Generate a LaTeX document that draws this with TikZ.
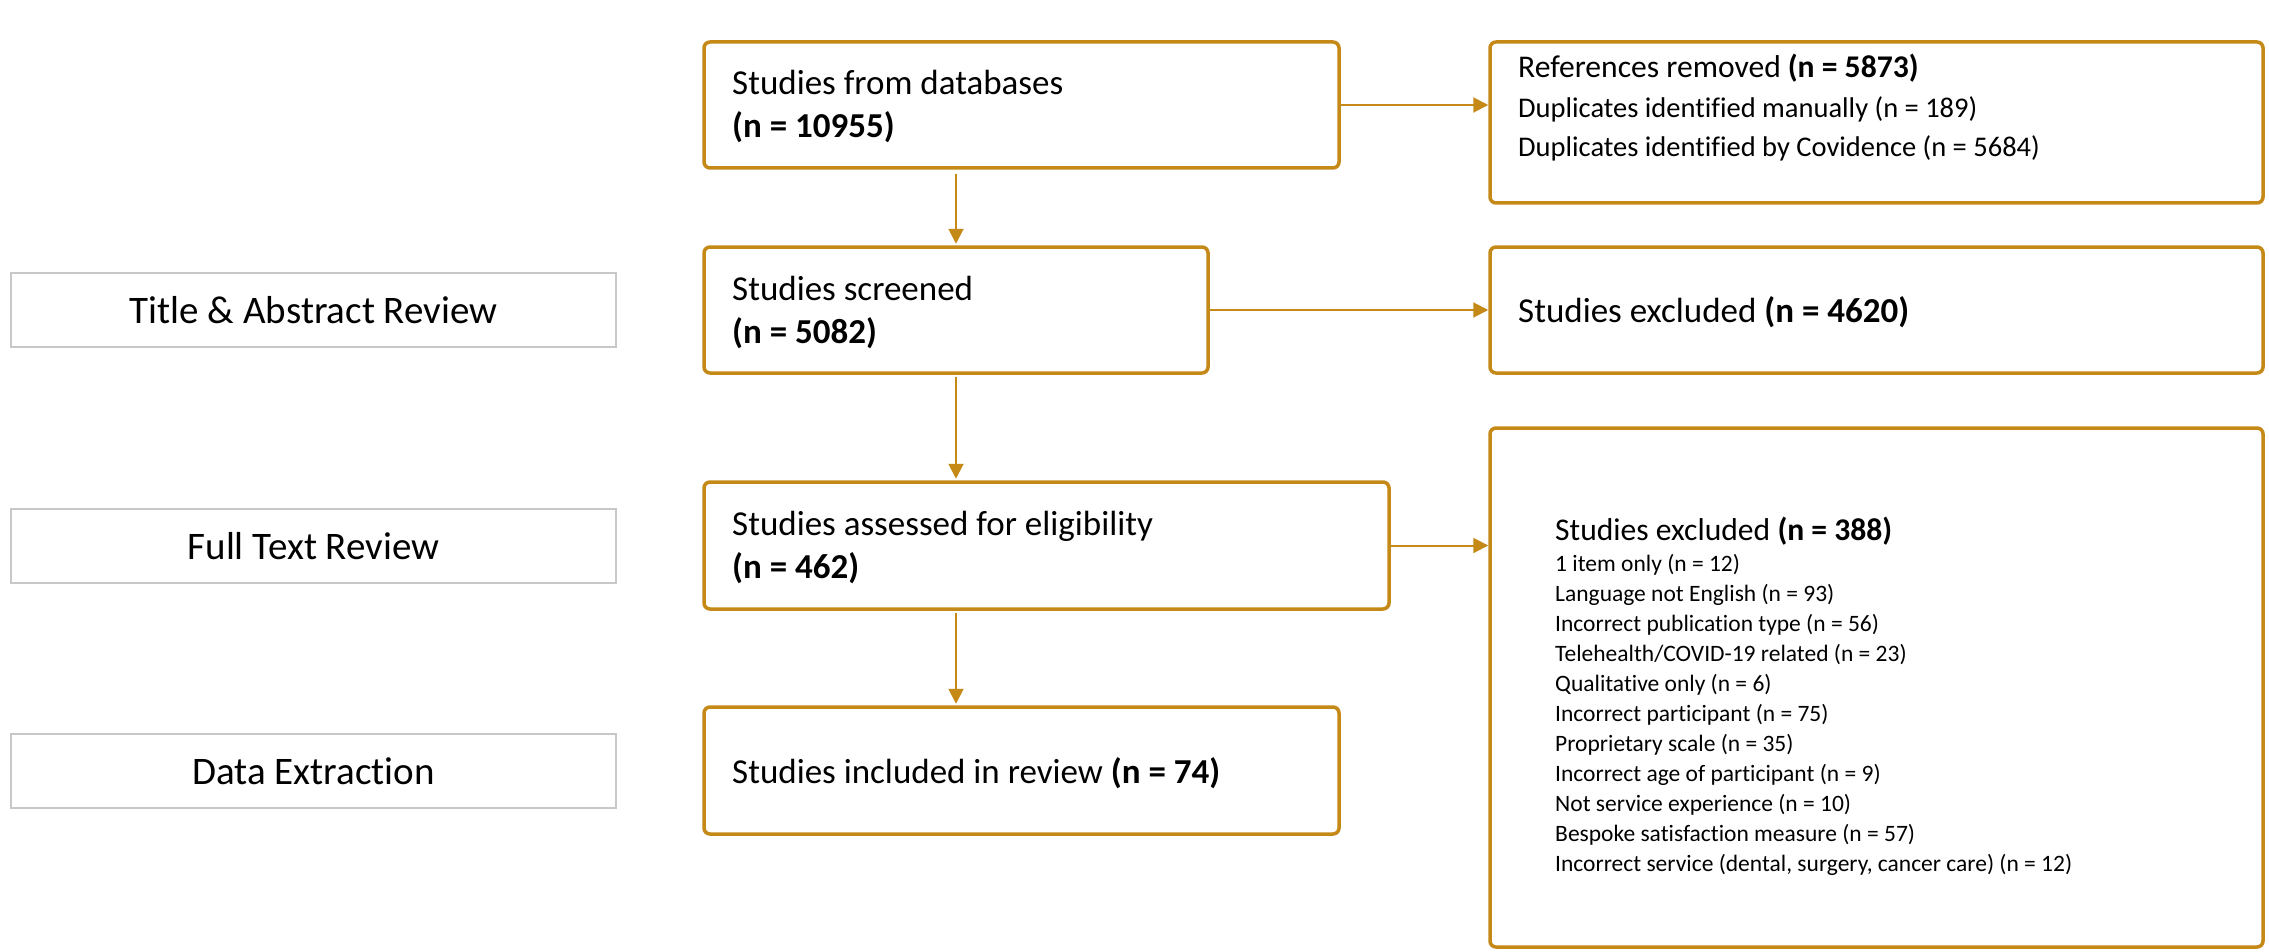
\documentclass[tikz,border=0pt]{standalone}
\usepackage{fontspec}
\setmainfont[Ligatures={NoCommon}]{Carlito}
\usetikzlibrary{arrows.meta}
\definecolor{gold}{RGB}{196,137,22}
\definecolor{lgray}{RGB}{200,200,200}
\begin{document}
\begin{tikzpicture}[x=1pt,y=-1pt,
  obox/.style={draw=gold, line width=3.5pt, rounded corners=6pt, inner sep=0pt, fill=white},
  gbox/.style={draw=lgray, line width=2pt, minimum width=605pt, minimum height=74pt, inner sep=0pt, font=\fontsize{39}{47}\selectfont},
  arr/.style={draw=gold, line width=2pt, -{Triangle[length=15pt,width=15pt]}},
  txt/.style={inner sep=0pt, anchor=base west}
]
\fill[white] (0,0) rectangle (2269,952);
\useasboundingbox (0,0) rectangle (2269,952);

% stage labels
\node[gbox] (g1) at (313.5,310) {Title \& Abstract Review};
\node[gbox] (g2) at (313.5,546) {Full Text Review};
\node[gbox] (g3) at (313.5,771) {Data Extraction};

% main column
\node[obox, minimum width=635pt, minimum height=126pt] (db) at (1021.5,105) {};
\node[obox, minimum width=504pt, minimum height=126pt] (scr) at (956,310) {};
\node[obox, minimum width=685pt, minimum height=127pt] (ass) at (1046.5,545.5) {};
\node[obox, minimum width=635pt, minimum height=127pt] (inc) at (1021.5,770.5) {};

% right column
\node[obox, minimum width=773pt, minimum height=161pt] (ref) at (1876.5,122.5) {};
\node[obox, minimum width=773pt, minimum height=126pt] (exa) at (1876.5,310) {};
\node[obox, minimum width=773pt, minimum height=519pt] (exb) at (1876.5,687.5) {};

% texts
\node[txt] (tdb) at (732,95) {\fontsize{35}{43}\selectfont\begin{tabular}[t]{@{}l@{}}Studies from databases\\ \textbf{(n = 10955)}\end{tabular}};
\node[txt] (tscr) at (732,300) {\fontsize{35}{43}\selectfont\begin{tabular}[t]{@{}l@{}}Studies screened\\ \textbf{(n = 5082)}\end{tabular}};
\node[txt] (tass) at (732,535) {\fontsize{35}{43}\selectfont\begin{tabular}[t]{@{}l@{}}Studies assessed for eligibility\\ \textbf{(n = 462)}\end{tabular}};
\node[txt] (tinc) at (732,783) {\fontsize{35}{43}\selectfont Studies included in review \textbf{(n = 74)}};

\node[txt] (tref) at (1518,78) {\fontsize{28.5}{39.5}\selectfont\begin{tabular}[t]{@{}l@{}}{\fontsize{31.6}{39.5}\selectfont References removed \textbf{(n = 5873)}}\\ Duplicates identified manually (n = 189)\\ Duplicates identified by Covidence (n = 5684)\end{tabular}};
\node[txt] (texa) at (1518,322) {\fontsize{35}{43}\selectfont Studies excluded \textbf{(n = 4620)}};
\node[txt] (texbt) at (1555,540) {\fontsize{31.6}{39}\selectfont Studies excluded \textbf{(n = 388)}};
\node[txt] (texbl) at (1555,571) {\fontsize{23.5}{30}\selectfont\begin{tabular}[t]{@{}l@{}}1 item only (n = 12)\\
Language not English (n = 93)\\
Incorrect publication type (n = 56)\\
Telehealth/COVID-19 related (n = 23)\\
Qualitative only (n = 6)\\
Incorrect participant (n = 75)\\
Proprietary scale (n = 35)\\
Incorrect age of participant (n = 9)\\
Not service experience (n = 10)\\
Bespoke satisfaction measure (n = 57)\\
Incorrect service (dental, surgery, cancer care) (n = 12)\end{tabular}};

% connectors
\draw[arr] (db.east) -- (db.east -| ref.west);
\draw[arr] (scr.east) -- (scr.east -| exa.west);
\draw[arr] (ass.east) -- (ass.east -| exb.west);
\draw[arr, shorten <=4pt, shorten >=1.5pt] (db.south -| scr.north) -- (scr.north);
\draw[arr, shorten <=2pt, shorten >=1.5pt] (scr.south) -- (scr.south |- ass.north);
\draw[arr, shorten <=2pt, shorten >=1.5pt] (ass.south -| scr.south) -- (inc.north -| scr.south);
\end{tikzpicture}
\end{document}
